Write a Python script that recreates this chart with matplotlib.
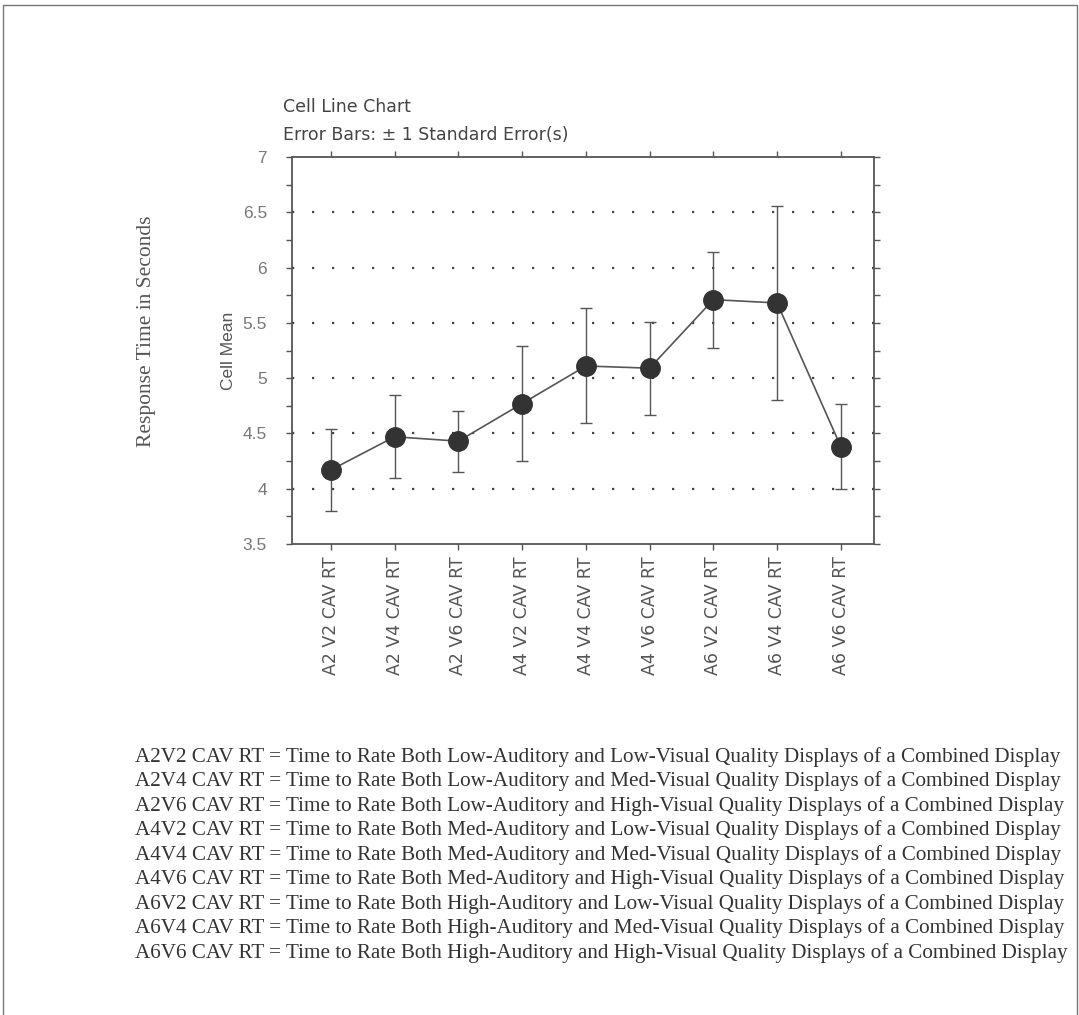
import numpy as np
import matplotlib
matplotlib.use("Agg")
from matplotlib import pyplot as plt
from matplotlib.patches import Rectangle

# cell names and values
cells = ["A2 V2 CAV RT", "A2 V4 CAV RT", "A2 V6 CAV RT",
         "A4 V2 CAV RT", "A4 V4 CAV RT", "A4 V6 CAV RT",
         "A6 V2 CAV RT", "A6 V4 CAV RT", "A6 V6 CAV RT"]
cell_means = [4.17, 4.47, 4.43, 4.77, 5.11, 5.09, 5.71, 5.68, 4.38]
std_errors = [0.37, 0.375, 0.275, 0.52, 0.52, 0.42, 0.435, 0.88, 0.385]

ytick_vals = [3.5, 4, 4.5, 5, 5.5, 6, 6.5, 7]
ytick_labels = ["3.5", "4", "4.5", "5", "5.5", "6", "6.5", "7"]
grid_vals = [4, 4.5, 5, 5.5, 6, 6.5]

legend_lines = [
    "A2V2 CAV RT = Time to Rate Both Low-Auditory and Low-Visual Quality Displays of a Combined Display",
    "A2V4 CAV RT = Time to Rate Both Low-Auditory and Med-Visual Quality Displays of a Combined Display",
    "A2V6 CAV RT = Time to Rate Both Low-Auditory and High-Visual Quality Displays of a Combined Display",
    "A4V2 CAV RT = Time to Rate Both Med-Auditory and Low-Visual Quality Displays of a Combined Display",
    "A4V4 CAV RT = Time to Rate Both Med-Auditory and Med-Visual Quality Displays of a Combined Display",
    "A4V6 CAV RT = Time to Rate Both Med-Auditory and High-Visual Quality Displays of a Combined Display",
    "A6V2 CAV RT = Time to Rate Both High-Auditory and Low-Visual Quality Displays of a Combined Display",
    "A6V4 CAV RT = Time to Rate Both High-Auditory and Med-Visual Quality Displays of a Combined Display",
    "A6V6 CAV RT = Time to Rate Both High-Auditory and High-Visual Quality Displays of a Combined Display",
]

W, H = 1079, 1015
fig = plt.figure(figsize=(W / 100, H / 100), dpi=100)
fig.patch.set_facecolor("white")

# page frame
fig.patches.append(Rectangle((3 / W, -0.01), (1077 - 3) / W, 1.01 - 5 / H,
                             transform=fig.transFigure, fill=False,
                             edgecolor="#777777", linewidth=1.0))

ax = fig.add_axes([292 / W, 1 - 544 / H, (874 - 292) / W, (544 - 157) / H])
x = np.arange(len(cells))

for g in grid_vals:
    ax.axhline(g, color="#444444", linestyle=(0, (1, 8)), linewidth=1.6, zorder=1)

ax.errorbar(x, cell_means, yerr=std_errors, fmt="none", ecolor="#555555",
            elinewidth=1.0, capsize=4, capthick=1.0, zorder=2)
ax.plot(x, cell_means, color="#555555", linewidth=1.2, zorder=3)
ax.plot(x, cell_means, "o", color="#333333", markersize=14, zorder=4)

ax.set_xlim(-0.61, 8.52)
ax.set_ylim(3.5, 7)
ax.set_yticks(ytick_vals)
ax.set_yticklabels(ytick_labels)
ax.set_yticks(np.arange(3.5, 7.01, 0.25), minor=True)
ax.set_xticks(x)
ax.set_xticklabels(cells, rotation=90, va="top", ha="center",
                   family="DejaVu Sans", fontsize=12.5, color="#555555")
ax.tick_params(axis="y", which="both", direction="out", length=4, width=1,
               color="#555555", left=True, right=True, labelsize=12.5,
               labelcolor="#777777", pad=14)
ax.tick_params(axis="x", direction="out", length=4, width=1, color="#555555",
               top=True, bottom=True, pad=5)
for lbl in ax.get_yticklabels():
    lbl.set_family("Liberation Sans")
for s in ax.spines.values():
    s.set_color("#555555")
    s.set_linewidth(1.3)

ax.set_ylabel("Cell Mean", family="Liberation Sans", fontsize=12.5,
              color="#555555")
ax.yaxis.set_label_coords(-56 / (874 - 292), 0.5)

fig.text(283 / W, 1 - 107 / H, "Cell Line Chart", family="DejaVu Sans",
         fontsize=12.5, color="#444444", va="center", ha="left")
fig.text(283 / W, 1 - 135 / H, "Error Bars: \u00b1 1 Standard Error(s)",
         family="DejaVu Sans", fontsize=12.5, color="#444444",
         va="center", ha="left")

fig.text(147 / W, 1 - 331 / H, "Response Time in Seconds",
         family="Liberation Serif", fontsize=15.5, color="#555555",
         rotation=90, va="center", ha="center")

for i, line in enumerate(legend_lines):
    fig.text(135 / W, 1 - (757 + i * 24.5) / H, line,
             family="Liberation Serif", fontsize=15.2, color="#333333",
             va="center", ha="left")

fig.savefig("out.png", dpi=100, facecolor="white")
